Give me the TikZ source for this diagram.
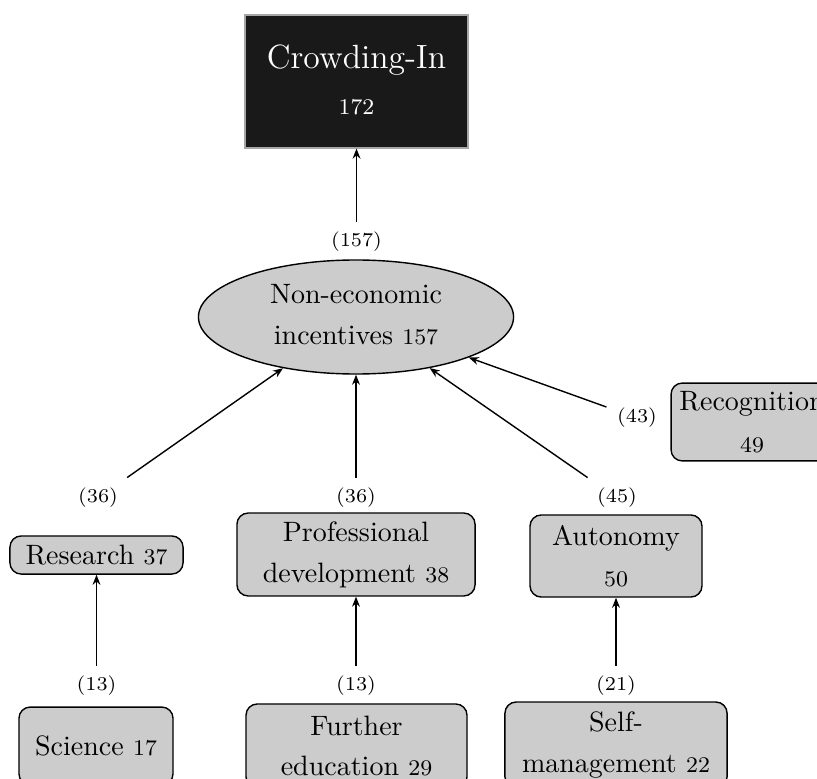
\documentclass[tikz,border=0pt]{standalone}
\usetikzlibrary{shapes.geometric,arrows.meta}
\begin{document}
\begin{tikzpicture}[x=0.357pt,y=-0.357pt,
  box/.style={draw=black,fill=black!20,rounded corners=4pt,align=center,inner sep=0pt,line width=0.5pt},
  lbl/.style={font=\scriptsize,inner sep=3.6pt},
  arr/.style={-{Stealth[length=3.6pt,width=2.8pt]},line width=0.5pt}]
\useasboundingbox (0,0) rectangle (817,778);
\clip (0,0) rectangle (817,778);
% nodes
\node[fill=black!90,draw=black!35,line width=0.4pt,text=white,align=center,inner sep=0pt,
  minimum width=79.6pt,minimum height=47.5pt] (crowd) at (356.5,81.5)
  {{\large Crowding-In}\\[4.5pt]{\footnotesize 172}\rule[-1.2pt]{0pt}{1.2pt}};
\node[ellipse,draw=black,fill=black!20,line width=0.5pt,align=center,inner sep=0pt,
  minimum width=112.5pt,minimum height=40.7pt] (nei) at (356,317)
  {Non-economic\\[2.6pt]incentives {\footnotesize 157}\rule[-2pt]{0pt}{0pt}};
\node[box,minimum width=57.8pt,minimum height=27.8pt] (recog) at (752,422)
  {Recognition\\[3.2pt]{\footnotesize 49}};
\node[box,minimum width=61.8pt,minimum height=13.6pt] (research) at (96.5,555)
  {Research {\footnotesize 37}};
\node[box,minimum width=85pt,minimum height=29.6pt] (prof) at (356,554.5)
  {Professional\\[2.6pt]development {\footnotesize 38}};
\node[box,minimum width=61.4pt,minimum height=29.3pt] (auto) at (616,556)
  {Autonomy\\[2.6pt]{\footnotesize 50}};
\node[box,minimum width=55pt,minimum height=27.8pt] (sci) at (96,746)
  {Science {\footnotesize 17}};
\node[box,minimum width=78.9pt,minimum height=30pt] (further) at (356.5,746)
  {Further\\[2.6pt]education {\footnotesize 29}};
\node[box,minimum width=79.3pt,minimum height=30.7pt] (self) at (616,745)
  {Self-\\[2.6pt]management {\footnotesize 22}};
% labels
\node[lbl] (l157) at (356.5,242) {(157)};
\node[lbl] (l36a) at (98,498) {(36)};
\node[lbl] (l36b) at (356,498) {(36)};
\node[lbl] (l45) at (617,498) {(45)};
\node[lbl] (l43) at (637,418) {(43)};
\node[lbl] (l13a) at (96.5,686) {(13)};
\node[lbl] (l13b) at (356,686) {(13)};
\node[lbl] (l21) at (616,686) {(21)};
% connectors
\draw[arr] (l157) -- (crowd);
\draw[arr] (l36a) -- (nei);
\draw[arr] (l36b) -- (nei);
\draw[arr] (l45) -- (nei);
\draw[arr] (l43) -- (nei);
\draw[arr] (l13a) -- (research);
\draw[arr] (l13b) -- (prof);
\draw[arr] (l21) -- (auto);
\end{tikzpicture}
\end{document}
